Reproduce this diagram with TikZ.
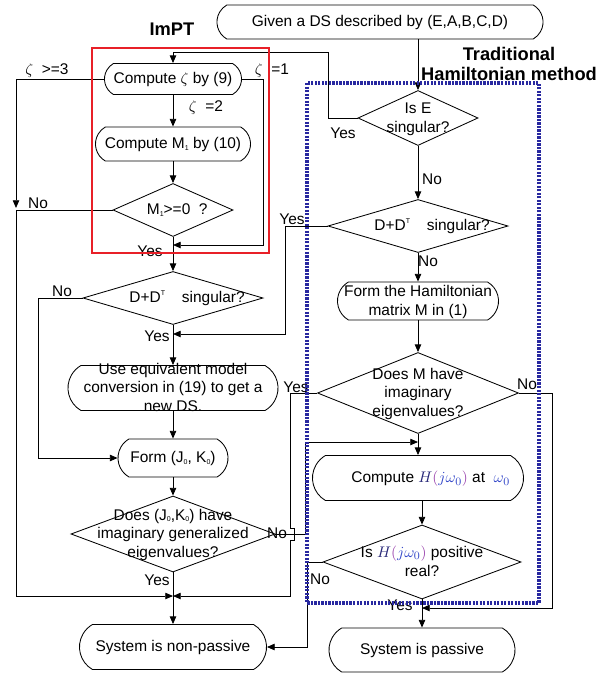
\documentclass[tikz,border=0pt]{standalone}
\usepackage{fontspec}
\setmainfont{Liberation Sans}
\usepackage{tikz}
\usetikzlibrary{shapes.geometric, shapes.misc, arrows.meta}
\definecolor{boxred}{RGB}{232,32,40}
\definecolor{boxblue}{RGB}{40,40,160}
\definecolor{mtH}{RGB}{40,40,120}
\definecolor{mtP}{RGB}{150,60,170}
\definecolor{mtW}{RGB}{50,70,200}
\tikzstyle{term} = [rounded rectangle, rounded rectangle arc length=120, draw, line width=0.6pt, inner sep=0pt]
\tikzstyle{dec} = [diamond, draw, line width=0.6pt, inner sep=0pt]
\tikzstyle{lbl} = [inner sep=0pt]
\tikzstyle{title} = [font=\fontsize{13}{14.5}\selectfont\bfseries, align=center]
\tikzstyle{line} = [draw, line width=0.6pt]
\tikzstyle{arrline} = [line, -{Triangle[length=5.5pt, width=4.6pt]}]
\newcommand{\boxtxt}[1]{\smash{\makebox[0pt]{\raisebox{-3.5pt}{\begin{tabular}{@{}c@{}}#1\end{tabular}}}}}
\newcommand{\lsub}[1]{\raisebox{-0.15ex}{\tiny #1}}
\newcommand{\lsup}[1]{\raisebox{0.9ex}{\tiny #1}}
\newcommand{\Hjw}{$\textcolor{mtH}{H}\textcolor{mtP}{(}\textcolor{mtW}{j\omega_0}\textcolor{mtP}{)}$}

\begin{document}
\begin{tikzpicture}[x=0.025cm, y=-0.025cm, font=\fontsize{11}{13.2}\selectfont]
	\useasboundingbox (0,0) rectangle (612,677);

	\node [term, minimum width=8.15cm, minimum height=0.85cm] (start) at (380,22) {\boxtxt{Given a DS described by (E,A,B,C,D)}};
	\node [title] (impt) at (172,29) {ImPT};
	\node [title] (tham) at (509,64) {Traditional\\Hamiltonian method};

	\node [term, minimum width=3.425cm, minimum height=0.775cm] (zeta) at (173,79) {\boxtxt{Compute $\zeta$ by (9)}};
	\node [term, minimum width=3.875cm, minimum height=0.85cm] (mone) at (173,144) {\boxtxt{Compute M\lsub{1} by (10)}};
	\node [dec, minimum width=3cm, minimum height=1.325cm] (mdec) at (173,210) {\boxtxt{\hspace*{6pt}M\lsub{1}>=0\ \ ?}};
	\node [dec, minimum width=4.5cm, minimum height=1.325cm] (ddl) at (173,298) {\boxtxt{\hspace*{20pt}D+D\lsup{T}\hspace{12pt}singular?}};
	\node [term, minimum width=5.25cm, minimum height=1.125cm] (conv) at (173,388) {\boxtxt{Use equivalent model\\conversion in (19) to get a\\new DS.}};
	\node [term, minimum width=2.75cm, minimum height=0.95cm] (form) at (173,458) {\boxtxt{Form (J\lsub{0}, K\lsub{0})}};
	\node [dec, minimum width=5.1cm, minimum height=1.9cm] (jdec) at (173,534) {\boxtxt{Does (J\lsub{0},K\lsub{0}) have\\imaginary generalized\\eigenvalues?}};
	\node [term, minimum width=4.675cm, minimum height=1.125cm] (npass) at (173,647) {\boxtxt{System is non-passive}};

	\node [dec, minimum width=3cm, minimum height=1.375cm] (edec) at (418,118) {\boxtxt{Is E\\singular?}};
	\node [dec, minimum width=4.5cm, minimum height=1.325cm] (ddr) at (418,226) {\boxtxt{\hspace*{20pt}D+D\lsup{T}\hspace{12pt}singular?}};
	\node [term, minimum width=4.025cm, minimum height=0.95cm] (ham) at (418,301) {\boxtxt{Form the Hamiltonian\\matrix M in (1)}};
	\node [dec, minimum width=5.025cm, minimum height=2.025cm] (mdec2) at (418,393) {\boxtxt{Does M have\\imaginary\\eigenvalues?}};
	\node [term, minimum width=5.275cm, minimum height=1.125cm] (hbox) at (418,478) {\boxtxt{\hspace*{18pt}Compute \Hjw\ at\ \ $\textcolor{mtW}{\omega_0}$}};
	\node [dec, minimum width=4.95cm, minimum height=1.85cm] (hdec) at (422,562) {\boxtxt{Is \Hjw\ positive\\real?}};
	\node [term, minimum width=4.65cm, minimum height=1.1cm] (pass) at (422,650) {\boxtxt{System is passive}};

	\coordinate (yes1) at (173,245);
	\coordinate (j2) at (173,596);
	\coordinate (j3) at (173,334);
	\coordinate (j4) at (418,442);
	\coordinate (j5) at (422,608);

	\path [arrline] (start.south -| edec.north) -- (edec.north);
	\path [arrline] (edec.west) -- (328,118) |- (173,52) -- (zeta.north);
	\path [arrline] (edec.south) -- (ddr.north);
	\path [arrline] (zeta.west) -| (16,208);
	\path [line] (mdec.west) -- (16,210);
	\path [arrline] (16,210) |- (j2);
	\path [arrline] (zeta.east) -| (263,245) -- (yes1);
	\path [arrline] (zeta.south) -- (mone.north);
	\path [arrline] (mone.south) -- (mdec.north);
	\path [arrline] (mdec.south) -- (ddl.north);
	\path [arrline] (ddl.west) -- (38,298) |- (form.west);
	\path [arrline] (ddr.west) -- (285,226) |- (j3);
	\path [arrline] (ddl.south) -- (conv.north);
	\path [arrline] (conv.south) -- (form.north);
	\path [arrline] (form.south) -- (jdec.north);
	\path [arrline] (jdec.south) -- (npass.north);
	\path [arrline] (jdec.east) -- (305,534) |- (j4);
	\path [arrline] (mdec2.west) -- (290,393) -- (290,528) -- (294,528) -- (294,540) -- (290,540) |- (j2);
	\path [arrline] (mdec2.east) -- (552,393) |- (j5);
	\path [arrline] (ddr.south) -- (ham.north);
	\path [arrline] (ham.south) -- (mdec2.north);
	\path [arrline] (mdec2.south) -- (hbox.north);
	\path [arrline] (hbox.south -| hdec.north) -- (hdec.north);
	\path [arrline] (hdec.west) -- (307,562) |- (npass.east);
	\path [arrline] (hdec.south) -- (pass.north);

	\node [lbl] (zeta3) at (47,71) {$\zeta$\ \ >=3};
	\node [lbl] (zeta1) at (272,71) {$\zeta$\ \ =1};
	\node [lbl] (zeta2) at (206,108) {$\zeta$\ \ =2};
	\node [lbl] (noM) at (38,203) {No};
	\node [lbl] (yesM) at (150,251) {Yes};
	\node [lbl] (noDl) at (62,291) {No};
	\node [lbl] (yesDl) at (157,336) {Yes};
	\node [lbl] (yesE) at (343,133) {Yes};
	\node [lbl] (noE) at (432,179) {No};
	\node [lbl] (yesDr) at (292,219) {Yes};
	\node [lbl] (noDr) at (428,261) {No};
	\node [lbl] (yesMh) at (296,387) {Yes};
	\node [lbl] (noMh) at (527,384) {No};
	\node [lbl] (noJ) at (277,533) {No};
	\node [lbl] (yesJ) at (157,580) {Yes};
	\node [lbl] (noH) at (320,579) {No};
	\node [lbl] (yesH) at (400,605) {Yes};

	\draw [boxred, line width=1.6pt] (92,48) rectangle (269,253);
	\draw [boxblue, line width=2.2pt, dash pattern=on 1.6pt off 0.9pt] (307,83) rectangle (539,603);
\end{tikzpicture}
\end{document}
